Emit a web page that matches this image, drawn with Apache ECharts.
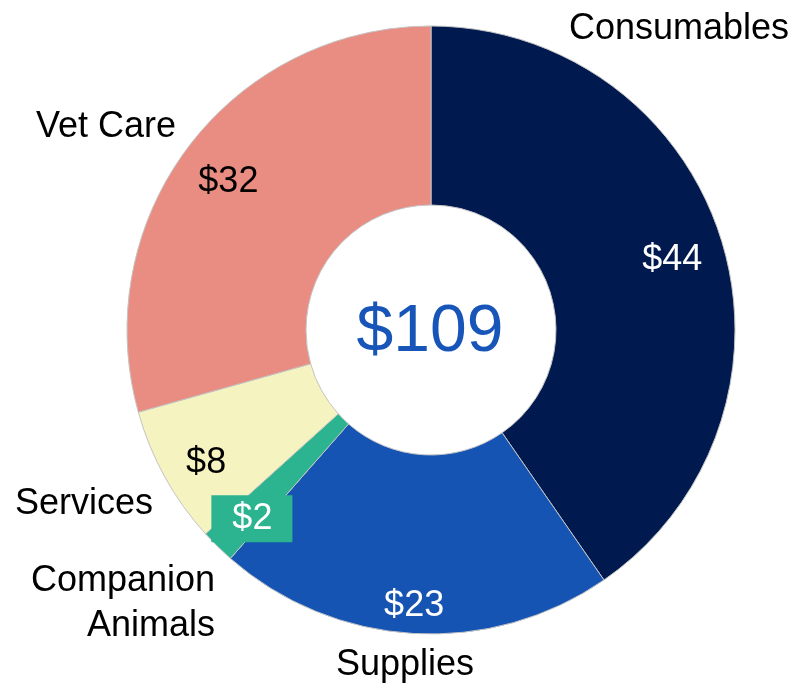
<!DOCTYPE html>
<html>
<head>
<meta charset="utf-8">
<script src="https://cdn.jsdelivr.net/npm/echarts@6/dist/echarts.min.js"></script>
<style>
html, body { margin: 0; padding: 0; background: #ffffff; }
#main { width: 798px; height: 688px; }
</style>
</head>
<body>
<div id="main"></div>
<script>
// data
var categories = ['Consumables', 'Supplies', 'Companion\nAnimals', 'Services', 'Vet Care'];
var values = [44, 23, 2, 8, 32];

// styles
var colors = ['#001a50', '#1654b4', '#2bb48f', '#f5f3bf', '#e98d82'];
var valueColors = ['#ffffff', '#ffffff', '#ffffff', '#000000', '#000000'];
var valueNudge = [[-5, 7], [-2, 19], [2, 5], [1, 8], [3, 8]];
var namePos = [[679, 29, 'center'], [405, 665, 'center'], [215, 604, 'right'], [84, 504, 'center'], [106, 127, 'center']];

var FONT = '"Liberation Sans", Arial, sans-serif';
var center = [431, 330];

var total = values.reduce(function (a, b) { return a + b; }, 0);

function buildData(withStyle) {
	return values.map(function (v, i) {
		var item = { name: categories[i], value: v };
		if (withStyle) {
			item.itemStyle = { color: colors[i] };
		}
		return item;
	});
}

var valueData = buildData(false).map(function (item, i) {
	item.label = { color: valueColors[i] };
	if (i === 2) {
		// small slice gets a boxed label
		item.label.backgroundColor = colors[i];
		item.label.padding = [5, 20, 5, 21];
	}
	return item;
});

var chart = echarts.init(document.getElementById('main'), null, { renderer: 'canvas' });

chart.setOption({
	animation: false,
	backgroundColor: '#ffffff',
	title: {
		text: '$' + total,
		left: center[0] - 1,
		top: center[1] + 3,
		padding: 0,
		textAlign: 'center',
		textVerticalAlign: 'middle',
		textStyle: {
			color: '#1855b8',
			fontSize: 66,
			fontWeight: 'normal',
			fontFamily: FONT
		}
	},
	series: [
		{
			// the donut itself
			type: 'pie',
			center: center,
			radius: [125, 304],
			startAngle: 90,
			clockwise: true,
			silent: true,
			avoidLabelOverlap: false,
			itemStyle: {
				borderColor: '#c4c4c4',
				borderWidth: 1
			},
			label: { show: false },
			labelLine: { show: false },
			data: buildData(true)
		},
		{
			// value labels, transparent ring so 'inside' sits at ~255px
			type: 'pie',
			center: center,
			radius: [206, 304],
			startAngle: 90,
			silent: true,
			avoidLabelOverlap: false,
			itemStyle: { color: 'rgba(0,0,0,0)' },
			label: {
				show: true,
				position: 'inside',
				formatter: function (p) { return '$' + p.value; },
				fontSize: 36,
				lineHeight: 37,
				fontFamily: FONT
			},
			labelLine: { show: false },
			labelLayout: function (p) {
				return { dx: valueNudge[p.dataIndex][0], dy: valueNudge[p.dataIndex][1] };
			},
			data: valueData
		},
		{
			// category names around the ring
			type: 'pie',
			center: center,
			radius: [125, 304],
			startAngle: 90,
			silent: true,
			avoidLabelOverlap: false,
			itemStyle: { color: 'rgba(0,0,0,0)' },
			label: {
				show: true,
				position: 'outside',
				formatter: '{b}',
				color: '#000000',
				fontSize: 36,
				lineHeight: 45,
				fontFamily: FONT
			},
			labelLine: { show: false },
			labelLayout: function (p) {
				var pos = namePos[p.dataIndex];
				return { x: pos[0], y: pos[1], align: pos[2], verticalAlign: 'middle' };
			},
			data: buildData(false)
		}
	]
});
</script>
</body>
</html>
